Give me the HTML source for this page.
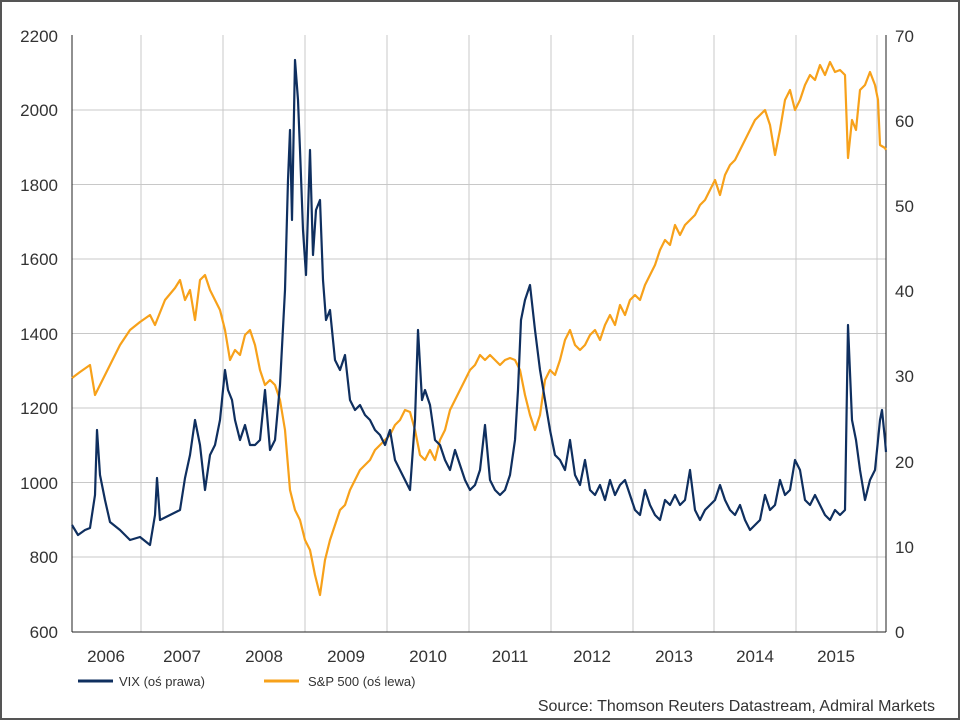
<!DOCTYPE html>
<html><head><meta charset="utf-8"><style>
body{margin:0;background:#fff}
svg{display:block;font-family:"Liberation Sans",sans-serif}
</style></head><body>
<svg width="960" height="720" viewBox="0 0 960 720">
<rect x="1" y="1" width="958" height="718" fill="#fff" stroke="#555" stroke-width="2"/>
<g stroke="#c8c8c8" stroke-width="1">
<line x1="72" y1="110" x2="886" y2="110"/><line x1="72" y1="184.5" x2="886" y2="184.5"/>
<line x1="72" y1="259" x2="886" y2="259"/><line x1="72" y1="333.5" x2="886" y2="333.5"/>
<line x1="72" y1="408" x2="886" y2="408"/><line x1="72" y1="482.5" x2="886" y2="482.5"/>
<line x1="72" y1="557" x2="886" y2="557"/>
<line x1="141" y1="35" x2="141" y2="632"/><line x1="223" y1="35" x2="223" y2="632"/>
<line x1="305" y1="35" x2="305" y2="632"/><line x1="387" y1="35" x2="387" y2="632"/>
<line x1="469" y1="35" x2="469" y2="632"/><line x1="551" y1="35" x2="551" y2="632"/>
<line x1="633" y1="35" x2="633" y2="632"/><line x1="714" y1="35" x2="714" y2="632"/>
<line x1="796" y1="35" x2="796" y2="632"/><line x1="877" y1="35" x2="877" y2="632"/>
</g>
<g stroke="#222" stroke-width="1">
<line x1="72" y1="35" x2="72" y2="632"/><line x1="886" y1="35" x2="886" y2="632"/>
<line x1="72" y1="632" x2="886" y2="632"/>
</g>
<g fill="#333" font-size="17">
<g text-anchor="end">
<text x="58" y="42">2200</text><text x="58" y="116">2000</text><text x="58" y="191">1800</text>
<text x="58" y="265">1600</text><text x="58" y="340">1400</text><text x="58" y="414">1200</text>
<text x="58" y="489">1000</text><text x="58" y="563">800</text><text x="58" y="638">600</text>
</g>
<g text-anchor="start">
<text x="895" y="42">70</text><text x="895" y="127">60</text><text x="895" y="212">50</text>
<text x="895" y="297">40</text><text x="895" y="382">30</text><text x="895" y="468">20</text>
<text x="895" y="553">10</text><text x="895" y="638">0</text>
</g>
<g text-anchor="middle">
<text x="106" y="662">2006</text><text x="182" y="662">2007</text><text x="264" y="662">2008</text>
<text x="346" y="662">2009</text><text x="428" y="662">2010</text><text x="510" y="662">2011</text>
<text x="592" y="662">2012</text><text x="674" y="662">2013</text><text x="755" y="662">2014</text>
<text x="836" y="662">2015</text>
</g>
</g>
<polyline fill="none" stroke="#F7A11A" stroke-width="2.2" stroke-linejoin="round" points="72,378 80,372 90,365 95,395 100,385 110,365 120,345 130,330 140,322 150,315 155,325 165,300 175,288 180,280 185,300 190,290 195,320 200,280 205,275 210,290 215,300 220,310 225,330 230,360 235,350 240,355 245,335 250,330 255,345 260,370 265,385 270,380 275,385 280,400 285,430 290,490 295,510 300,520 305,540 310,550 315,575 320,595 325,560 330,540 335,525 340,510 345,505 350,490 355,480 360,470 365,465 370,460 375,450 380,445 385,440 390,435 395,425 400,420 405,410 410,412 415,430 420,455 425,460 430,450 435,460 440,440 445,430 450,410 455,400 460,390 465,380 470,370 475,365 480,355 485,360 490,355 495,360 500,365 505,360 510,358 515,360 520,370 525,395 530,415 535,430 540,415 545,380 550,370 555,375 560,360 565,340 570,330 575,345 580,350 585,345 590,335 595,330 600,340 605,325 610,315 615,325 620,305 625,315 630,300 635,295 640,300 645,285 650,275 655,265 660,250 665,240 670,245 675,225 680,235 685,225 690,220 695,215 700,205 705,200 710,190 715,180 720,195 725,175 730,165 735,160 740,150 745,140 750,130 755,120 760,115 765,110 770,125 775,155 780,130 785,100 790,90 795,110 800,100 805,85 810,75 815,80 820,65 825,75 830,62 835,72 840,70 845,75 848,158 852,120 856,130 860,90 865,85 870,72 875,85 878,100 880,145 885,148 886,150"/>
<polyline fill="none" stroke="#0F2F5F" stroke-width="2.2" stroke-linejoin="round" points="72,525 78,535 85,530 90,528 95,495 97,430 100,475 105,500 110,522 120,530 130,540 140,537 150,545 155,515 157,478 160,520 170,515 180,510 185,478 190,455 195,420 200,445 205,490 210,455 215,445 220,420 225,370 228,390 232,400 235,420 240,440 245,425 250,445 255,445 260,440 265,390 270,450 275,440 280,385 285,290 288,180 290,130 292,220 295,60 298,100 300,150 303,230 306,275 310,150 313,255 316,210 320,200 323,280 326,320 330,310 335,360 340,370 345,355 350,400 355,410 360,405 365,415 370,420 375,430 380,435 385,445 390,430 395,460 400,470 405,480 410,490 415,420 418,330 422,400 425,390 430,405 435,440 440,445 445,460 450,470 455,450 460,465 465,480 470,490 475,485 480,470 485,425 490,480 495,490 500,495 505,490 510,475 515,440 518,390 521,320 525,300 530,285 535,330 540,370 545,400 550,430 555,455 560,460 565,470 570,440 575,475 580,485 585,460 590,490 595,495 600,485 605,500 610,480 615,495 620,485 625,480 630,495 635,510 640,515 645,490 650,505 655,515 660,520 665,500 670,505 675,495 680,505 685,500 690,470 695,510 700,520 705,510 710,505 715,500 720,485 725,500 730,510 735,515 740,505 745,520 750,530 755,525 760,520 765,495 770,510 775,505 780,480 785,495 790,490 795,460 800,470 805,500 810,505 815,495 820,505 825,515 830,520 835,510 840,515 845,510 848,325 852,420 856,440 860,470 865,500 870,480 875,470 880,420 882,410 885,440 886,452"/>
<rect x="78" y="679.5" width="35" height="3" fill="#0F2F5F"/>
<rect x="264" y="679.5" width="35" height="3" fill="#F7A11A"/>
<g fill="#333" font-size="13">
<text x="119" y="686">VIX (oś prawa)</text>
<text x="308" y="686">S&amp;P 500 (oś lewa)</text>
</g>
<text x="935" y="711" text-anchor="end" fill="#333" font-size="16">Source: Thomson Reuters Datastream, Admiral Markets</text>
</svg>
</body></html>
